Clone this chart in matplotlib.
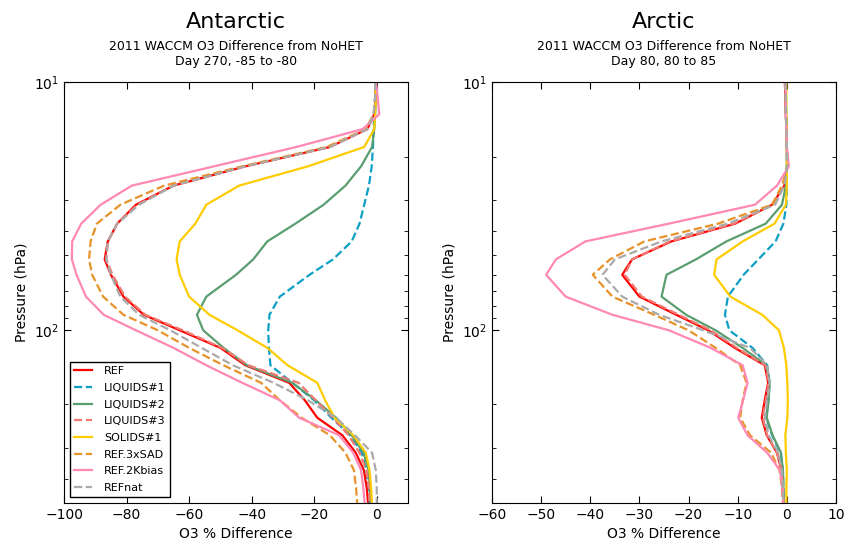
import matplotlib
matplotlib.use("Agg")
import matplotlib.pyplot as plt

# model pressure levels (hPa)
PRESSURE = [10.0, 11.5, 13.5, 15.5, 18.3, 21.9, 26.2, 31.3, 37.3, 44.0, 52.0, 60.0,
            73.5, 87.0, 100.5, 118.3, 139.1, 163.7, 192.5, 226.5, 266.5, 313.5,
            368.8, 433.9, 510.5]

LABELS = ["REF", "LIQUIDS#1", "LIQUIDS#2", "LIQUIDS#3", "SOLIDS#1",
          "REF.3xSAD", "REF.2Kbias", "REFnat"]

# Antarctic, day 270
ant_ref = [-0.5, -0.3, -0.8, -3, -15, -42, -65, -77, -83, -86, -87, -85,
           -81, -74.5, -63, -50, -42, -28, -23, -19, -11, -6.7, -4.1, -3.2, -2.7]
ant_liq1 = [-0.5, -0.5, -0.8, -1, -1.2, -1.6, -2.5, -4, -5.5, -8, -14, -21.5,
            -31, -34.3, -34.7, -34.5, -34, -27, -20, -14.5, -8.5, -4.8, -3.3, -2.5, -2.2]
ant_liq2 = [-0.3, -0.3, -0.5, -0.8, -1.5, -5, -10, -17, -26, -35, -39.5, -45,
            -54.5, -57.5, -55.5, -49, -41.5, -27, -19.5, -13, -8, -4.2, -2.6, -2.2, -2]
ant_liq3 = [-0.5, -0.3, -0.8, -3, -15, -42, -65, -76.5, -83, -86, -86.5, -84.5,
            -80.5, -74, -62, -49.5, -41, -25, -19.5, -14, -9, -5.5, -3.3, -2.5, -2.3]
ant_sol1 = [-0.5, -0.3, -0.5, -0.8, -4, -22, -44, -54.5, -58, -63, -64, -63,
            -60, -53.5, -44.5, -35, -28.5, -19, -16.5, -13.5, -7.5, -3.5, -2.3, -1.8, -1.5]
ant_sad3 = [-0.5, -0.5, -1, -3.5, -16, -43, -68, -82, -89.5, -91.5, -92, -91,
            -87.5, -81, -70, -60, -49, -37, -31, -24, -15, -10, -7.3, -6.6, -6.2]
ant_2k = [-0.2, 0.3, 0.8, -4.5, -25.7, -52, -78.3, -88.3, -94.5, -97.4, -97.5, -96,
          -93, -87.3, -77, -65, -54.5, -43, -31, -24.8, -12, -7.5, -5, -4.3, -3.8]
ant_nat = [-0.5, -0.5, -1, -3, -15, -42, -65, -76, -83, -86, -86.5, -85,
           -82, -76, -66, -56, -46, -33, -22, -13, -7, -1.5, -0.3, 0, 0]

# Arctic, day 80
arc_ref = [-0.4, -0.3, -0.2, -0.1, 0, 0.1, -0.5, -3, -10.5, -23.5, -31.5, -33.5,
           -30, -22.5, -16, -10.6, -4.5, -3.8, -4.5, -5.1, -4.1, -2, -1.1, -0.8, -0.7]
arc_liq1 = [-0.2, -0.2, -0.1, -0.1, 0, 0, 0, -0.1, -0.7, -2.3, -5.8, -8.8,
            -12, -12.6, -11.7, -7, -4, -3.5, -3.8, -4.2, -3, -1.3, -0.8, -0.7, -0.6]
arc_liq2 = [-0.3, -0.2, -0.2, -0.1, 0, 0, -0.2, -1, -4.3, -12.3, -18.5, -24.5,
            -25.5, -20.5, -14.5, -9, -4.2, -3.5, -3.7, -4.1, -2.9, -1.2, -0.8, -0.7, -0.6]
arc_liq3 = [-0.4, -0.3, -0.2, -0.1, 0, 0.1, -0.5, -3, -10.8, -23.8, -31.5, -33,
            -29.5, -22, -15.5, -10.2, -4.4, -3.7, -4.3, -4.9, -4, -2, -1.1, -0.8, -0.7]
arc_sol1 = [-0.1, -0.1, -0.1, 0, 0, 0, 0, -0.2, -2.5, -9, -14.3, -14.8,
            -11.5, -5, -1.6, -0.6, -0.1, 0.1, 0.2, 0.1, -0.3, -0.2, 0, -0.1, -0.1]
arc_sad3 = [-0.3, -0.2, -0.2, -0.1, 0, 0.2, -1, -3, -14, -29, -36, -39.5,
            -35.5, -27, -20, -14.5, -9.5, -8.2, -9, -9.5, -7.5, -3.2, -1.5, -1, -0.8]
arc_2k = [-0.3, -0.2, -0.2, -0.1, 0, 0.4, -2, -6.5, -24, -41, -47, -49,
          -45, -35.5, -24, -15.5, -9, -8, -8.9, -9.9, -8, -4, -1.4, -0.9, -0.7]
arc_nat = [-0.3, -0.2, -0.2, -0.1, 0, 0.1, -0.5, -2.4, -12, -25.5, -35, -37.5,
           -33.5, -26, -17, -7.5, -4, -3.5, -4, -4.5, -3.7, -1.8, -1, -0.8, -0.7]

COLORS = ["#ff0000", "#0e9fc4", "#5a9e70", "#f27a72", "#ffcc00",
          "#e8922a", "#ff88b4", "#aaaaaa"]
STYLES = ["-", "--", "-", "--", "-", "--", "-", "--"]

plt.rcParams["font.family"] = "DejaVu Sans"
plt.rcParams["xtick.direction"] = "in"
plt.rcParams["ytick.direction"] = "in"
plt.rcParams["xtick.top"] = True
plt.rcParams["ytick.right"] = True


def draw_panel(ax, series, xlim, xticks):
    for vals, lab, col, ls in zip(series, LABELS, COLORS, STYLES):
        ax.plot(vals, PRESSURE, color=col, linestyle=ls, linewidth=1.6, label=lab)
    ax.set_yscale("log")
    ax.set_ylim(500, 10)
    ax.set_xlim(*xlim)
    ax.set_xticks(xticks)
    ax.set_xlabel("O3 % Difference", fontsize=10)
    ax.set_ylabel("Pressure (hPa)", fontsize=10)
    ax.tick_params(which="major", length=5, labelsize=10)
    ax.tick_params(which="minor", length=3)
    ax.tick_params(axis="x", which="minor", top=False, bottom=False)


fig = plt.figure(figsize=(8.47, 5.42), dpi=100)
ax1 = fig.add_axes([0.0756, 0.072, 0.4061, 0.7768])
ax2 = fig.add_axes([0.5809, 0.072, 0.4061, 0.7768])

draw_panel(ax1, [ant_ref, ant_liq1, ant_liq2, ant_liq3, ant_sol1, ant_sad3, ant_2k, ant_nat],
           (-100, 10), range(-100, 1, 20))
draw_panel(ax2, [arc_ref, arc_liq1, arc_liq2, arc_liq3, arc_sol1, arc_sad3, arc_2k, arc_nat],
           (-60, 10), range(-60, 11, 10))

leg = ax1.legend(loc="lower left", fontsize=8, handlelength=1.6, handletextpad=1.1,
                 labelspacing=0.6, fancybox=False, borderaxespad=0.5)
leg.get_frame().set_edgecolor("black")
leg.get_frame().set_alpha(1)

for ax, name, sub in [(ax1, "Antarctic", "Day 270, -85 to -80"),
                      (ax2, "Arctic", "Day 80, 80 to 85")]:
    cx = (ax.get_position().x0 + ax.get_position().x1) / 2
    fig.text(cx, 1 - 22 / 542, name, fontsize=16, ha="center", va="center")
    fig.text(cx, 1 - 47 / 542, "2011 WACCM O3 Difference from NoHET", fontsize=9,
             ha="center", va="center")
    fig.text(cx, 1 - 62 / 542, sub, fontsize=9, ha="center", va="center")

fig.savefig("out.png", dpi=100)
